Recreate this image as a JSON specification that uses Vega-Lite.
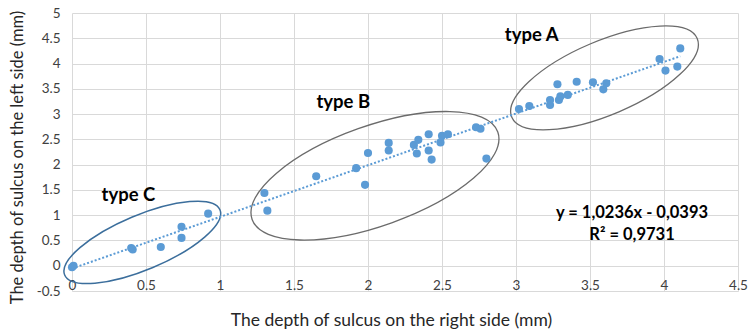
{
  "$schema": "https://vega.github.io/schema/vega-lite/v6.json",
  "width": 666,
  "height": 278,
  "autosize": "none",
  "padding": {"left": 72, "top": 13, "right": 11, "bottom": 42},
  "background": "white",
  "config": {
    "view": {"stroke": null},
    "font": "Lato"
  },
  "datasets": {
    "pts": [
      {"x": 0.0, "y": -0.03}, {"x": 0.01, "y": 0.0},
      {"x": 0.40, "y": 0.35}, {"x": 0.41, "y": 0.32}, {"x": 0.60, "y": 0.37},
      {"x": 0.74, "y": 0.77}, {"x": 0.74, "y": 0.55}, {"x": 0.92, "y": 1.03},
      {"x": 1.30, "y": 1.44}, {"x": 1.32, "y": 1.09}, {"x": 1.65, "y": 1.77},
      {"x": 1.92, "y": 1.93}, {"x": 1.98, "y": 1.60}, {"x": 2.00, "y": 2.23},
      {"x": 2.14, "y": 2.43}, {"x": 2.14, "y": 2.28}, {"x": 2.31, "y": 2.39},
      {"x": 2.33, "y": 2.22}, {"x": 2.34, "y": 2.49}, {"x": 2.41, "y": 2.60},
      {"x": 2.41, "y": 2.28}, {"x": 2.43, "y": 2.10}, {"x": 2.49, "y": 2.44},
      {"x": 2.50, "y": 2.57}, {"x": 2.54, "y": 2.60}, {"x": 2.73, "y": 2.74},
      {"x": 2.76, "y": 2.71}, {"x": 2.80, "y": 2.12},
      {"x": 3.02, "y": 3.10}, {"x": 3.09, "y": 3.16}, {"x": 3.23, "y": 3.18},
      {"x": 3.23, "y": 3.28}, {"x": 3.28, "y": 3.59}, {"x": 3.29, "y": 3.28},
      {"x": 3.30, "y": 3.35}, {"x": 3.35, "y": 3.38}, {"x": 3.41, "y": 3.64},
      {"x": 3.52, "y": 3.63}, {"x": 3.59, "y": 3.49}, {"x": 3.61, "y": 3.61},
      {"x": 3.97, "y": 4.09}, {"x": 4.01, "y": 3.86}, {"x": 4.09, "y": 3.94},
      {"x": 4.11, "y": 4.30}
    ],
    "ellipses": [
      {"type": "A", "x": 3.598, "y": 3.716},
      {"type": "B", "x": 2.047, "y": 1.78},
      {"type": "C", "x": 0.475, "y": 0.462}
    ],
    "typeLabels": [
      {"x": 3.106, "y": 4.566, "text": "type A"},
      {"x": 1.833, "y": 3.23, "text": "type B"},
      {"x": 0.381, "y": 1.406, "text": "type C"}
    ],
    "eq": [
      {"x": 3.784, "y": 1.05, "text": "y = 1,0236x - 0,0393"},
      {"x": 3.784, "y": 0.60, "text": "R² = 0,9731"}
    ]
  },
  "encoding": {
    "x": {
      "field": "x", "type": "quantitative",
      "scale": {"domain": [0, 4.5], "nice": false, "zero": false},
      "axis": {
        "values": [0, 0.5, 1, 1.5, 2, 2.5, 3, 3.5, 4, 4.5],
        "labelExpr": "datum.value + ''",
        "labelOverlap": false, "labelBound": false, "labelFlush": false,
        "grid": true, "gridColor": "#d9d9d9", "gridWidth": 1,
        "domain": false, "ticks": false, "tickSize": 0,
        "labelPadding": -13, "labelFontSize": 13.5, "labelColor": "#404040",
        "labelFont": "Lato",
        "title": "The depth of sulcus on the right side (mm)",
        "titleFont": "Lato", "titleFontSize": 17.5, "titleFontWeight": "normal",
        "titleColor": "#262626", "titleX": 319, "titleY": 29, "titleBaseline": "middle",
        "titleAnchor": "middle", "titleAlign": "center"
      }
    },
    "y": {
      "field": "y", "type": "quantitative",
      "scale": {"domain": [-0.5, 5], "nice": false, "zero": false},
      "axis": {
        "values": [-0.5, 0, 0.5, 1, 1.5, 2, 2.5, 3, 3.5, 4, 4.5, 5],
        "labelExpr": "datum.value + ''",
        "labelOverlap": false, "labelBound": false, "labelFlush": false,
        "grid": true, "gridColor": "#d9d9d9", "gridWidth": 1,
        "domain": false, "ticks": false, "tickSize": 0,
        "labelPadding": 12, "labelFontSize": 13.5, "labelColor": "#404040",
        "labelFont": "Lato",
        "title": "The depth of sulcus on the  left side (mm)",
        "titleFont": "Lato", "titleFontSize": 16.5, "titleFontWeight": "normal",
        "titleColor": "#262626", "titleX": -55, "titleY": 144, "titleBaseline": "middle",
        "titleAnchor": "middle", "titleAlign": "center", "titleAngle": -90
      }
    }
  },
  "layer": [
    {
      "data": {"name": "ellipses"},
      "transform": [{"filter": "datum.type == 'A'"}],
      "mark": {
        "type": "point", "filled": false, "opacity": 1, "stroke": "#6b6b6b", "strokeWidth": 1.3,
        "shape": "M-1,0 C-1,-0.202 -0.5523,-0.366 0,-0.366 C0.5523,-0.366 1,-0.202 1,0 C1,0.202 0.5523,0.366 0,0.366 C-0.5523,0.366 -1,0.202 -1,0 Z",
        "size": 40562, "angle": 337
      }
    },
    {
      "data": {"name": "ellipses"},
      "transform": [{"filter": "datum.type == 'B'"}],
      "mark": {
        "type": "point", "filled": false, "opacity": 1, "stroke": "#6b6b6b", "strokeWidth": 1.3,
        "shape": "M-1,0 C-1,-0.212 -0.5523,-0.383 0,-0.383 C0.5523,-0.383 1,-0.212 1,0 C1,0.212 0.5523,0.383 0,0.383 C-0.5523,0.383 -1,0.212 -1,0 Z",
        "size": 68017, "angle": 340.4
      }
    },
    {
      "data": {"name": "ellipses"},
      "transform": [{"filter": "datum.type == 'C'"}],
      "mark": {
        "type": "point", "filled": false, "opacity": 1, "stroke": "#3b6e9c", "strokeWidth": 1.5,
        "shape": "M-1,0 C-1,-0.179 -0.5523,-0.324 0,-0.324 C0.5523,-0.324 1,-0.179 1,0 C1,0.179 0.5523,0.324 0,0.324 C-0.5523,0.324 -1,0.179 -1,0 Z",
        "size": 28359, "angle": 337.2
      }
    },
    {
      "data": {"name": "pts"},
      "transform": [{"regression": "y", "on": "x"}],
      "mark": {"type": "line", "color": "#5b9bd5", "strokeWidth": 2, "strokeDash": [2, 2]}
    },
    {
      "data": {"name": "pts"},
      "mark": {"type": "circle", "color": "#5b9bd5", "opacity": 1, "size": 66}
    },
    {
      "data": {"name": "typeLabels"},
      "mark": {"type": "text", "font": "Lato", "fontSize": 18.5, "fontWeight": "bold", "color": "#000000", "align": "center", "baseline": "middle"},
      "encoding": {"text": {"field": "text"}}
    },
    {
      "data": {"name": "eq"},
      "mark": {"type": "text", "font": "Lato", "fontSize": 16.5, "fontWeight": "bold", "color": "#000000", "align": "center", "baseline": "middle"},
      "encoding": {"text": {"field": "text"}}
    }
  ]
}
